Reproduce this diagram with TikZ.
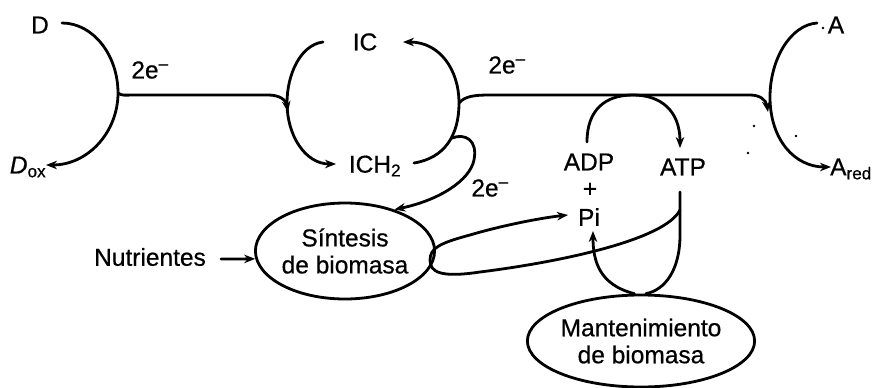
\documentclass[tikz,border=0pt]{standalone}
\usepackage{fontspec}
\setmainfont{Liberation Sans}[FakeBold=0.6]
\usetikzlibrary{arrows.meta,shapes.geometric}
\begin{document}
\begin{tikzpicture}[x=1pt,y=-1pt,
  lbl/.style={inner sep=0pt,font=\fontsize{24.5}{27}\selectfont,align=center},
  ln/.style={line width=2.8pt,line cap=round},
  arr/.style={ln,-{Stealth[length=11pt,width=8.5pt]}},
  ell/.style={draw,line width=2.8pt,ellipse,inner sep=0pt,lbl}]
\useasboundingbox (0,0) rectangle (873,388);
% text nodes
\node[lbl] (D) at (40,25) {D};
\node[lbl] (Dox) at (28,167) {\textit{D}\textsubscript{ox}};
\node[lbl] (e1) at (150,70) {2e\textsuperscript{–}};
\node[lbl] (IC) at (365,42) {IC};
\node[lbl] (ICH) at (375,166) {ICH\textsubscript{2}};
\node[lbl] (e2) at (507,65) {2e\textsuperscript{–}};
\node[lbl] (e3) at (490,188) {2e\textsuperscript{–}};
\node[lbl] (A) at (836,25) {A};
\node[lbl,anchor=east] (Ared) at (872,169) {A\textsubscript{red}};
\node[lbl] (ADP) at (589,162) {ADP};
\node[lbl] (plus) at (590,190) {+};
\node[lbl] (Pi) at (589,217) {Pi};
\node[lbl] (ATP) at (683,167) {ATP};
\node[lbl] (nut) at (150,257) {Nutrientes};
\node[ell,minimum width=174pt,minimum height=96pt] (sint) at (345,251) {Síntesis\\de biomasa};
\node[ell,minimum width=202pt,minimum height=92pt] (mant) at (641,341) {Mantenimiento\\de biomasa};
% coordinates
\coordinate (dS) at (62,23);
\coordinate (jD) at (118,93);
\coordinate (dE) at (46,165);
\coordinate (icS) at (323,42);
\coordinate (jL) at (287,103);
\coordinate (ichE) at (336,164);
\coordinate (ichS) at (414,163);
\coordinate (jR) at (459,103);
\coordinate (icE) at (403,42);
\coordinate (aS) at (817,23);
\coordinate (jA) at (770,97);
\coordinate (aE) at (831,167);
\coordinate (adpS) at (587,142);
\coordinate (top) at (633,95);
\coordinate (atpE) at (680,148);
\coordinate (atpS) at (680,192);
\coordinate (atpv) at (680,210);
\coordinate (nutS) at (221,259);
\coordinate (piW) at (568,215);
\coordinate (piS) at (593,231);
\coordinate (ichB) at (452,138);
% donor arc
\draw[arr] (dS) .. controls (93,23) and (118,55) .. (jD)
  .. controls (118,132) and (88,165) .. (dE);
\draw[arr] (jD) .. controls (122,96) and (125,95) .. (135,95) -- (268,95)
  .. controls (280,95) and (286,100) .. (288,112);
% IC cycle
\draw[arr] (icS) .. controls (300,45) and (287,75) .. (jL)
  .. controls (287,135) and (305,164) .. (ichE);
\draw[arr] (ichS) .. controls (445,158) and (459,135) .. (jR)
  .. controls (459,70) and (440,42) .. (icE);
% main electron line to acceptor
\draw[arr] (jR) .. controls (465,96) and (475,95) .. (490,95) -- (750,95)
  .. controls (760,95) and (766,100) .. (768,112);
% acceptor arc
\draw[arr] (aS) .. controls (790,25) and (770,60) .. (jA)
  .. controls (770,140) and (795,167) .. (aE);
% ADP -> ATP
\draw[arr] (adpS) .. controls (587,110) and (605,95) .. (top)
  .. controls (660,95) and (680,110) .. (atpE);
% ICH2 -> sintesis
\draw[arr] (ichB) .. controls (465,133) and (478,140) .. (474,160)
  .. controls (470,180) and (440,200) .. (sint.40);
% nutrientes
\draw[arr] (nutS) -- (sint.185);
% ATP consumption
\draw[ln] (atpS) -- (680,235) .. controls (680,270) and (665,290) .. (mant.84);
\draw[arr] (atpv) .. controls (665,240) and (560,262) .. (480,272)
  .. controls (440,278) and (430,272) .. (430,260)
  .. controls (430,248) and (440,243) .. (470,235)
  .. controls (500,226) and (540,218) .. (piW);
\draw[arr] (mant.98) .. controls (600,285) and (593,262) .. (piS);
% specks
\foreach \p in {(754,126),(796,136),(748,153),(823,28)} \fill \p circle (1.3pt);
\end{tikzpicture}
\end{document}
